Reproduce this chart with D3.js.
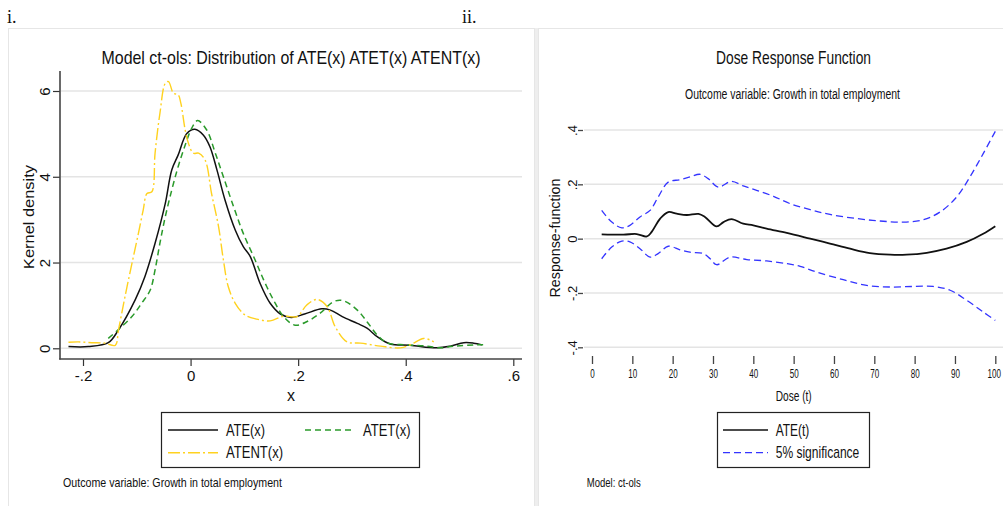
<!DOCTYPE html>
<html>
<head>
<meta charset="utf-8">
<script src="https://cdn.jsdelivr.net/npm/d3@7"></script>
<style>
  body { margin: 0; background: #fff; }
  svg { display: block; }
  text { font-family: "Liberation Sans Narrow", "Liberation Sans", Arial, sans-serif; fill: #111; }
</style>
</head>
<body>
<svg id="chart" width="1003" height="506"></svg>
<script>
// ---- panel i. data : kernel densities of ATE(x), ATET(x), ATENT(x)
var ateX = [-0.227,-0.19,-0.153,-0.134,-0.103,-0.085,-0.066,-0.047,-0.035,-0.023,-0.007,0.008,0.024,0.036,0.049,0.064,0.083,0.098,0.111,0.129,0.148,0.167,0.187,0.212,0.244,0.26,0.282,0.31,0.328,0.347,0.371,0.408,0.458,0.483,0.508,0.526,0.542];
var ateY = [0.04,0.04,0.13,0.43,1.13,1.67,2.45,3.38,4.16,4.51,5.01,5.11,4.97,4.70,4.16,3.46,2.76,2.37,2.14,1.52,1.05,0.80,0.72,0.80,0.92,0.89,0.74,0.58,0.47,0.27,0.10,0.07,0.01,0.05,0.13,0.12,0.08];

var atetX = [-0.153,-0.134,-0.109,-0.091,-0.075,-0.066,-0.057,-0.047,-0.035,-0.023,-0.01,0.002,0.013,0.03,0.046,0.061,0.08,0.098,0.12,0.136,0.154,0.173,0.194,0.216,0.241,0.266,0.284,0.31,0.328,0.347,0.365,0.402,0.44,0.464,0.489,0.532,0.545];
var atetY = [0.23,0.44,0.74,1.05,1.36,1.83,2.45,3.07,3.69,4.24,4.74,5.13,5.31,5.09,4.55,4.0,3.30,2.68,2.06,1.59,1.13,0.74,0.54,0.62,0.82,1.09,1.11,0.89,0.62,0.31,0.13,0.08,0.05,0.01,0.05,0.08,0.08];

var atentX = [-0.227,-0.209,-0.184,-0.159,-0.14,-0.134,-0.122,-0.109,-0.097,-0.088,-0.081,-0.072,-0.066,-0.057,-0.047,-0.041,-0.032,-0.023,-0.018,-0.01,-0.004,0.005,0.015,0.027,0.039,0.052,0.061,0.07,0.083,0.101,0.123,0.148,0.173,0.198,0.216,0.235,0.254,0.269,0.291,0.316,0.353,0.39,0.408,0.433,0.446,0.452];
var atentY = [0.14,0.15,0.13,0.12,0.07,0.43,1.20,1.98,2.68,3.23,3.61,3.65,4.55,5.48,6.18,6.22,5.95,5.91,5.71,5.09,4.78,4.55,4.55,4.39,3.61,2.84,2.06,1.44,1.05,0.78,0.68,0.64,0.75,0.74,1.01,1.14,0.97,0.50,0.15,0.12,0.05,0.01,0.08,0.23,0.19,0.15];

var densTicksX = [-0.2, 0, 0.2, 0.4, 0.6];
var densTicksY = [0, 2, 4, 6];

// ---- panel ii. data : dose response function with 5% bands
var ateDose = [2.4,7.8,11.1,13.6,14.8,16.9,18.9,21.0,23.5,26.4,28.0,30.9,32.6,34.6,37.5,40.0,43.3,48.3,54.1,59.0,64.0,68.9,73.9,78.0,83.0,87.9,92.9,97.0,100];
var ateResp = [0.016,0.015,0.017,0.008,0.025,0.074,0.098,0.092,0.087,0.091,0.080,0.045,0.061,0.072,0.055,0.049,0.037,0.021,0.0,-0.018,-0.037,-0.053,-0.059,-0.059,-0.052,-0.037,-0.012,0.018,0.046];

var upDose = [2.4,4.9,7.4,9.4,11.9,14.4,16.4,18.9,21.8,24.3,26.8,28.8,31.3,34.6,37.5,40.8,45.0,49.1,54.1,59.0,65.6,71.4,77.2,82.2,86.3,90.4,93.7,97.0,100];
var upResp = [0.104,0.061,0.040,0.049,0.080,0.104,0.153,0.208,0.217,0.227,0.237,0.221,0.190,0.211,0.194,0.178,0.156,0.129,0.107,0.089,0.074,0.065,0.061,0.070,0.098,0.153,0.227,0.313,0.395];

var loDose = [2.4,4.9,7.4,9.4,11.9,14.4,16.4,18.9,21.8,24.3,27.6,29.3,30.9,34.2,38.4,43.3,48.3,51.6,55.7,62.3,68.1,73.9,79.7,84.6,88.8,92.9,97.0,100];
var loResp = [-0.074,-0.031,-0.009,-0.012,-0.037,-0.068,-0.055,-0.028,-0.041,-0.050,-0.055,-0.074,-0.096,-0.068,-0.077,-0.082,-0.092,-0.102,-0.123,-0.151,-0.172,-0.178,-0.176,-0.176,-0.190,-0.227,-0.270,-0.301];

var doseTicksX = [0,10,20,30,40,50,60,70,80,90,100];
var doseTicksY = [-0.4,-0.2,0,0.2,0.4];

var svg = d3.select("#chart");

// stata style number labels: -.2, 0, .2
var stataFmt = function(d) {
    if (d === 0) return "0";
    return String(d).replace(/^(-?)0\./, "$1.");
};

// text helper, squeezes to a given width like the condensed stata font
function label(g, x, y, txt, size, width, anchor) {
    var t = g.append("text")
        .attr("x", x).attr("y", y)
        .attr("font-size", size)
        .attr("dominant-baseline", "central")
        .attr("text-anchor", anchor || "middle")
        .text(txt);
    if (width) t.attr("textLength", width).attr("lengthAdjust", "spacingAndGlyphs");
    return t;
}

// panel frames
svg.append("rect").attr("x", 8.5).attr("y", 28.5).attr("width", 526).attr("height", 490)
    .attr("fill", "#fff").attr("stroke", "#e6e6e6");
svg.append("rect").attr("x", 535).attr("y", 28).attr("width", 3).attr("height", 478).attr("fill", "#eeeeee");
svg.append("rect").attr("x", 538.5).attr("y", 28.5).attr("width", 470).attr("height", 490)
    .attr("fill", "#fff").attr("stroke", "#e6e6e6");

svg.append("text").attr("x", 7).attr("y", 23).attr("font-size", 18)
    .style("font-family", "'Liberation Serif', serif").text("i.");
svg.append("text").attr("x", 462).attr("y", 23).attr("font-size", 18)
    .style("font-family", "'Liberation Serif', serif").text("ii.");

// ================= panel i =================
var left = svg.append("g");
var xL = d3.scaleLinear().domain([-0.2, 0.6]).range([83, 513.3]);
var yL = d3.scaleLinear().domain([0, 6]).range([348.3, 91]);

left.selectAll(".grid").data(densTicksY).enter().append("line")
    .attr("x1", 61).attr("x2", 522)
    .attr("y1", function(d) { return yL(d); }).attr("y2", function(d) { return yL(d); })
    .attr("stroke", "#e4e4e4").attr("stroke-width", 1.5);

var axL = left.append("g").attr("transform", "translate(60,0)")
    .call(d3.axisLeft(yL).tickValues(densTicksY).tickSize(7).tickFormat(stataFmt));
var axB = left.append("g").attr("transform", "translate(0,359)")
    .call(d3.axisBottom(xL).tickValues(densTicksX).tickSize(7).tickFormat(stataFmt));
[axL, axB].forEach(function(a) {
    a.select(".domain").remove();
    a.selectAll("line").attr("stroke", "#333").attr("stroke-width", 1.2);
    a.selectAll("text").attr("font-size", 15).attr("fill", "#111")
        .style("font-family", "'Liberation Sans Narrow', 'Liberation Sans', sans-serif");
});
axL.selectAll(".tick text").attr("x", null).attr("dy", null)
    .attr("transform", "translate(-16,0) rotate(-90)")
    .attr("text-anchor", "middle").attr("dominant-baseline", "central");
axB.selectAll(".tick text").attr("y", 16).attr("dy", null).attr("dominant-baseline", "central");
left.append("line").attr("x1", 60).attr("x2", 60).attr("y1", 71).attr("y2", 359.6)
    .attr("stroke", "#444").attr("stroke-width", 1.6);
left.append("line").attr("x1", 59.2).attr("x2", 522).attr("y1", 359).attr("y2", 359)
    .attr("stroke", "#444").attr("stroke-width", 1.6);

var lineL = d3.line().curve(d3.curveCatmullRom.alpha(0.5))
    .x(function(d) { return xL(d[0]); }).y(function(d) { return yL(d[1]); });

var densSeries = [
    { xs: ateX, ys: ateY, color: "#111", dash: null, w: 1.5 },
    { xs: atetX, ys: atetY, color: "#2a9a2a", dash: "6,4", w: 1.5 },
    { xs: atentX, ys: atentY, color: "#ffd21f", dash: "12,3,2,3", w: 1.4 }
];
densSeries.forEach(function(s) {
    left.append("path").datum(d3.zip(s.xs, s.ys))
        .attr("d", lineL).attr("fill", "none")
        .attr("stroke", s.color).attr("stroke-width", s.w)
        .attr("stroke-dasharray", s.dash);
});

label(left, 291, 57, "Model ct-ols: Distribution of ATE(x) ATET(x) ATENT(x)", 19, 379);
label(left, 291, 395, "x", 16);
label(left, 0, 0, "Kernel density", 15, 104).attr("transform", "translate(28,217) rotate(-90)");

// legend
var legL = left.append("g");
legL.append("rect").attr("x", 161.5).attr("y", 412.5).attr("width", 258).attr("height", 55)
    .attr("fill", "#fff").attr("stroke", "#222").attr("stroke-width", 1.2);
var legItems = [
    { x: 168, y: 430, name: "ATE(x)", w: 39, s: densSeries[0] },
    { x: 305, y: 430, name: "ATET(x)", w: 47.5, s: densSeries[1] },
    { x: 168, y: 452.7, name: "ATENT(x)", w: 57, s: densSeries[2] }
];
legItems.forEach(function(it) {
    legL.append("line").attr("x1", it.x).attr("x2", it.x + 50).attr("y1", it.y).attr("y2", it.y)
        .attr("stroke", it.s.color).attr("stroke-width", it.s.w).attr("stroke-dasharray", it.s.dash);
    label(legL, it.x + 58, it.y, it.name, 17, it.w, "start");
});
label(left, 63, 482, "Outcome variable: Growth in total employment", 13, 219, "start");

// ================= panel ii =================
var right = svg.append("g");
var xR = d3.scaleLinear().domain([0, 100]).range([592, 995.3]);
var yR = d3.scaleLinear().domain([-0.4, 0.4]).range([347.3, 130]);

right.selectAll(".grid").data(doseTicksY).enter().append("line")
    .attr("x1", 584).attr("x2", 1003)
    .attr("y1", function(d) { return yR(d); }).attr("y2", function(d) { return yR(d); })
    .attr("stroke", "#e4e4e4").attr("stroke-width", 1.5);

var axR = right.append("g").attr("transform", "translate(583,0)")
    .call(d3.axisLeft(yR).tickValues(doseTicksY).tickSize(5).tickFormat(stataFmt));
var axRB = right.append("g").attr("transform", "translate(0,356)")
    .call(d3.axisBottom(xR).tickValues(doseTicksX).tickSize(8).tickFormat(d3.format("d")));
[axR, axRB].forEach(function(a) {
    a.select(".domain").remove();
    a.selectAll("line").attr("stroke", "#444").attr("stroke-width", 1.3);
    a.selectAll("text").attr("font-size", 13).attr("fill", "#111")
        .style("font-family", "'Liberation Sans Narrow', 'Liberation Sans', sans-serif");
});
axR.selectAll(".tick text").attr("x", null).attr("dy", null)
    .attr("transform", "translate(-11,0) rotate(-90)")
    .attr("text-anchor", "middle").attr("dominant-baseline", "central");
// the dose labels are very narrow in the original: squeeze them horizontally
axRB.selectAll(".tick text").attr("y", 0).attr("dy", null).attr("dominant-baseline", "central")
    .attr("transform", function(d) { return "translate(" + (d === 100 ? -1.5 : 0) + ",17) scale(0.62,1)"; });

var lineR = d3.line().curve(d3.curveCatmullRom.alpha(0.5))
    .x(function(d) { return xR(d[0]); }).y(function(d) { return yR(d[1]); });

var bandStyle = { color: "#3434ff", dash: "7,4", w: 1.3 };
[[upDose, upResp], [loDose, loResp]].forEach(function(b) {
    right.append("path").datum(d3.zip(b[0], b[1]))
        .attr("d", lineR).attr("fill", "none")
        .attr("stroke", bandStyle.color).attr("stroke-width", bandStyle.w)
        .attr("stroke-dasharray", bandStyle.dash);
});
right.append("path").datum(d3.zip(ateDose, ateResp))
    .attr("d", lineR).attr("fill", "none")
    .attr("stroke", "#111").attr("stroke-width", 1.8);

label(right, 793.5, 57, "Dose Response Function", 19, 155);
label(right, 792.5, 94, "Outcome variable: Growth in total employment", 14, 215);
label(right, 793.7, 396, "Dose (t)", 14, 36);
label(right, 0, 0, "Response-function", 14, 119).attr("transform", "translate(555,238) rotate(-90)");

var legR = right.append("g");
legR.append("rect").attr("x", 717.5).attr("y", 412.5).attr("width", 152).attr("height", 55)
    .attr("fill", "#fff").attr("stroke", "#222").attr("stroke-width", 1.2);
legR.append("line").attr("x1", 723).attr("x2", 768).attr("y1", 430).attr("y2", 430)
    .attr("stroke", "#111").attr("stroke-width", 1.6);
label(legR, 775.7, 430, "ATE(t)", 17, 33.6, "start");
legR.append("line").attr("x1", 723).attr("x2", 768).attr("y1", 452.7).attr("y2", 452.7)
    .attr("stroke", bandStyle.color).attr("stroke-width", bandStyle.w).attr("stroke-dasharray", bandStyle.dash);
label(legR, 775.7, 452.7, "5% significance", 17, 83.6, "start");

label(right, 586.7, 482, "Model: ct-ols", 13, 54, "start");
</script>
</body>
</html>
